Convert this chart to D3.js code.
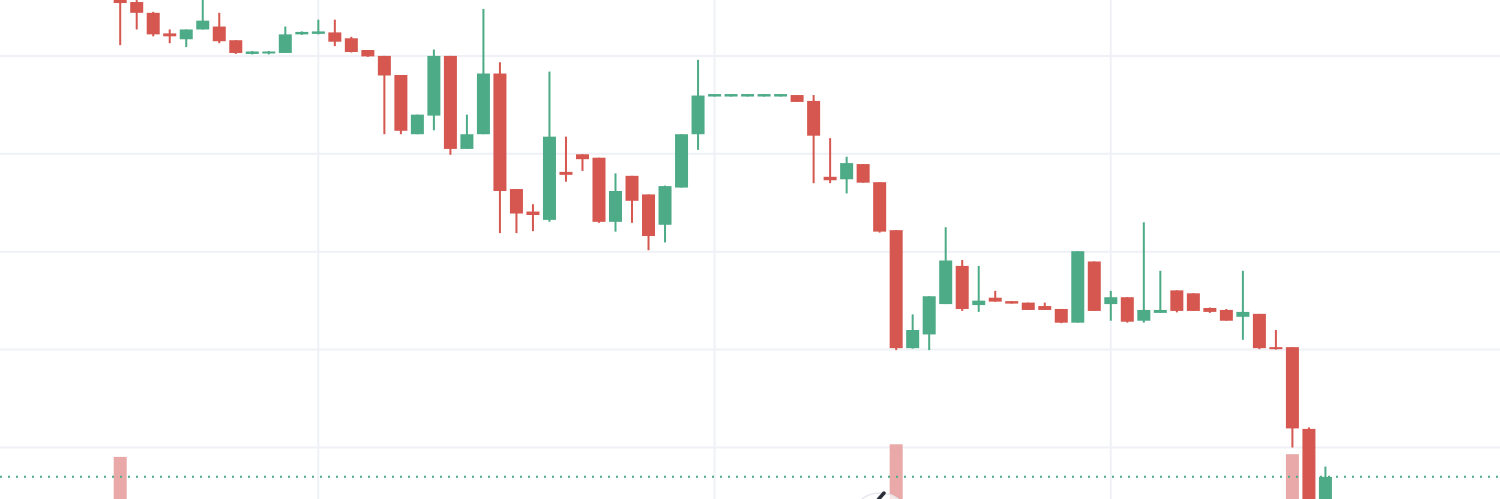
<!DOCTYPE html>
<html>
<head>
<meta charset="utf-8">
<script src="https://cdn.jsdelivr.net/npm/d3@7"></script>
<style>
  html, body { margin: 0; padding: 0; background: #ffffff; }
  #chart { width: 1500px; height: 499px; overflow: hidden; }
</style>
</head>
<body>
<div id="chart"></div>
<script>
// candle data (open, high, low, close), one entry per bar
const opens  = [2458, 2455, 2444, 2423, 2417, 2427, 2430, 2416, 2402, 2402.5, 2403, 2422, 2422.5, 2424, 2418, 2406, 2400, 2380.5, 2320, 2339,
                2400, 2305, 2320, 2382, 2264, 2241, 2232.5, 2281.5, 2299.5, 2296, 2230.5, 2277.5, 2258.5, 2227.5, 2265.5, 2320, 2358.5, 2358.5, 2358.5, 2358.5,
                2358.5, 2360, 2354, 2276.5, 2274, 2289.5, 2271, 2222, 2101.5, 2115.5, 2146.5, 2185.5, 2145.5, 2153, 2149.5, 2148, 2144.5, 2141.5, 2127.5, 2190,
                2146.5, 2153.5, 2129.5, 2137.5, 2160.5, 2157.5, 2142.5, 2140.5, 2133.5, 2136.5, 2102.5, 2102.5, 2019, 1934];
const highs  = [2463, 2457, 2445, 2427, 2427, 2460, 2444, 2416, 2405, 2405, 2430, 2425, 2437, 2437, 2419.5, 2406, 2400, 2380.5, 2340, 2406.5,
                2400, 2340, 2448, 2393.5, 2264, 2248.5, 2384, 2317.5, 2299.5, 2296, 2280, 2277.5, 2258.5, 2267.5, 2320, 2396, 2361, 2361, 2361, 2361,
                2361, 2360, 2360, 2316, 2297, 2289.5, 2271, 2222, 2136, 2154.5, 2225, 2191.5, 2185.5, 2160, 2149.5, 2148, 2148, 2141.5, 2200.5, 2190,
                2160, 2153.5, 2230, 2180.5, 2160.5, 2157.5, 2143, 2141.5, 2180.5, 2136.5, 2120, 2102.5, 2020.5, 1980.5];
const lows   = [2411, 2427, 2420, 2413, 2409, 2427, 2413, 2402, 2401.5, 2401.5, 2403, 2421.5, 2422, 2410, 2403.5, 2399, 2320, 2320, 2320, 2324,
                2299, 2305, 2320, 2219, 2219, 2221, 2230.5, 2271.5, 2282.5, 2229.5, 2220.5, 2229.5, 2201.5, 2209.5, 2265.5, 2304, 2358.5, 2358.5, 2358.5, 2358.5,
                2358.5, 2353, 2270, 2270, 2259.5, 2270.5, 2219.5, 2099.5, 2101, 2099.5, 2146.5, 2139.5, 2138.5, 2149, 2147, 2140.5, 2140.5, 2127, 2127.5, 2139.5,
                2129.5, 2127.5, 2127.5, 2137.5, 2138, 2139.5, 2137.5, 2129.5, 2110, 2100.5, 2100, 2000, 1926, 1928];
const closes = [2454, 2444, 2422, 2420, 2427, 2436, 2415, 2403, 2404.5, 2404.5, 2422, 2424.5, 2425, 2414.5, 2404, 2399.5, 2380, 2323.5, 2340, 2400,
                2305, 2320, 2382, 2262, 2239, 2237.5, 2317.5, 2278.5, 2294.5, 2230.5, 2262, 2252, 2216, 2267, 2320, 2359.5, 2361, 2361, 2361, 2361,
                2361, 2353, 2318.5, 2273, 2290.5, 2270.5, 2220.5, 2101.5, 2120, 2154.5, 2191, 2141.5, 2150, 2149, 2147, 2140.5, 2140.5, 2127.5, 2200.5, 2139.5,
                2153.5, 2128.5, 2140.5, 2140.5, 2139.5, 2139.5, 2138.5, 2129.5, 2138.5, 2101.5, 2100.5, 2019.5, 1931, 1970];

// volume bars that reach into view (bar index, volume)
const volIndex = [0, 47, 71];
const volValue = [159, 173, 162];

// price gridlines and time gridlines (bar index)
const priceTicks = [2000, 2100, 2200, 2300, 2400];
const timeTicks = [12, 36, 60];

const upColor = "#4dab87";
const downColor = "#d5574f";
const volColor = "#e8a9a8";
const gridColor = "#eff1f6";

const width = 1500, height = 499;
const data = opens.map((o, i) => ({ i, o, h: highs[i], l: lows[i], c: closes[i] }));

const svg = d3.select("#chart").append("svg")
  .attr("width", width)
  .attr("height", height);

svg.append("rect").attr("width", width).attr("height", height).attr("fill", "#ffffff");

const x = d3.scaleLinear()
  .domain([0, opens.length - 1])
  .range([120.2, 120.2 + (opens.length - 1) * 16.51]);

const y = d3.scaleLinear()
  .domain([2000, 2400])
  .range([447.5, 55.9]);

// volume sits in its own scale below the price pane
const yVol = d3.scaleLinear()
  .domain([0, 200])
  .range([600, 420]);

const barW = 13;

// grid
svg.append("g")
  .selectAll("line")
  .data(priceTicks)
  .join("line")
  .attr("x1", 0).attr("x2", width)
  .attr("y1", d => y(d)).attr("y2", d => y(d))
  .attr("stroke", gridColor)
  .attr("stroke-width", 2);

svg.append("g")
  .selectAll("line")
  .data(timeTicks)
  .join("line")
  .attr("x1", d => x(d)).attr("x2", d => x(d))
  .attr("y1", 0).attr("y2", height)
  .attr("stroke", gridColor)
  .attr("stroke-width", 2);

// volume
svg.append("g")
  .selectAll("rect")
  .data(volIndex.map((idx, k) => ({ idx, v: volValue[k] })))
  .join("rect")
  .attr("x", d => x(d.idx) - barW / 2)
  .attr("y", d => yVol(d.v))
  .attr("width", barW)
  .attr("height", d => yVol(0) - yVol(d.v))
  .attr("fill", volColor);

// last price line
const last = closes[closes.length - 1];
svg.append("line")
  .attr("x1", 0).attr("x2", width)
  .attr("y1", y(last)).attr("y2", y(last))
  .attr("stroke", upColor)
  .attr("stroke-width", 2)
  .attr("stroke-dasharray", "2 6");

// candles
const candles = svg.append("g")
  .selectAll("g")
  .data(data)
  .join("g")
  .attr("fill", d => d.c >= d.o ? upColor : downColor)
  .attr("stroke", "none");

candles.append("rect")
  .attr("x", d => x(d.i) - 1)
  .attr("y", d => y(d.h))
  .attr("width", 2)
  .attr("height", d => Math.max(1, y(d.l) - y(d.h)));

candles.append("rect")
  .attr("x", d => x(d.i) - barW / 2)
  .attr("y", d => y(Math.max(d.o, d.c)))
  .attr("width", barW)
  .attr("height", d => Math.max(2, Math.abs(y(d.o) - y(d.c))));

// floating round button, mostly below the bottom edge
const btn = svg.append("g").attr("transform", "translate(880,523)");
btn.append("circle")
  .attr("r", 30)
  .attr("fill", "#ffffff")
  .attr("fill-opacity", 0.7)
  .attr("stroke", "#e6e8ee")
  .attr("stroke-width", 1.5);
btn.append("line")
  .attr("x1", -3).attr("y1", -22)
  .attr("x2", 4).attr("y2", -30)
  .attr("stroke", "#2a2e39")
  .attr("stroke-width", 3.5)
  .attr("stroke-linecap", "round");
</script>
</body>
</html>
